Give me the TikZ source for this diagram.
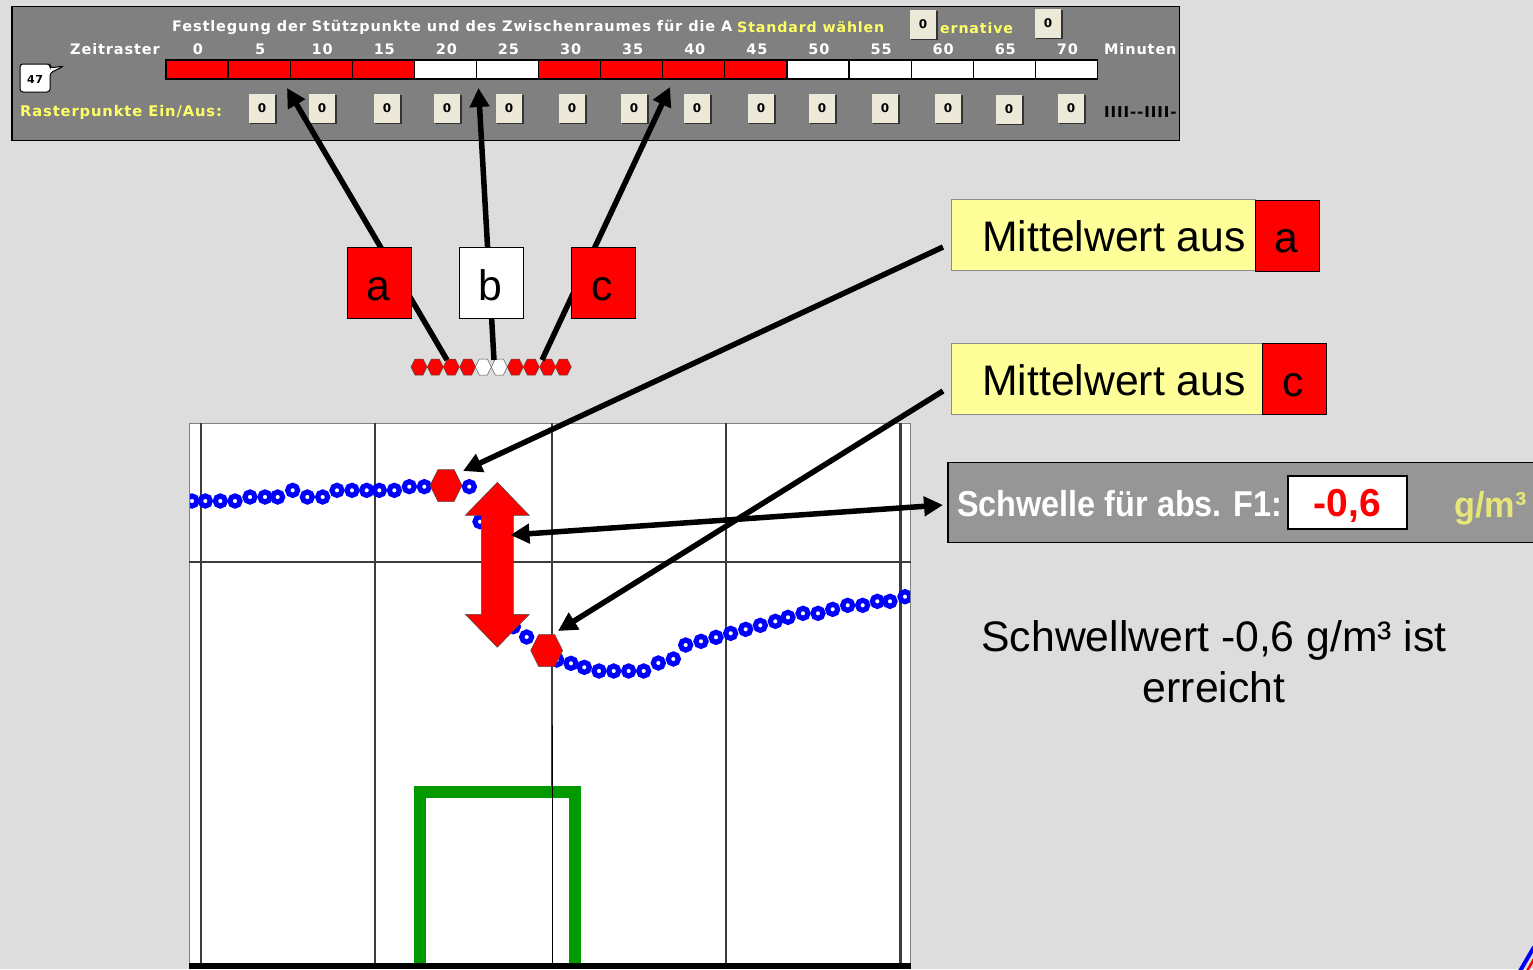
\documentclass[tikz,border=0pt]{standalone}
\usepackage{fontspec}
\usepackage{graphicx}
\usetikzlibrary{arrows.meta}
\setmainfont{Liberation Sans}
\newfontfamily\pix[LetterSpace=6]{DejaVu Sans Bold}
\definecolor{bgc}{HTML}{DDDDDD}
\definecolor{panelc}{HTML}{808080}
\definecolor{panelb}{HTML}{969696}
\definecolor{pale}{HTML}{FFFF99}
\definecolor{yel}{HTML}{FFFF66}
\definecolor{btn}{HTML}{ECE9D8}
\definecolor{gridc}{HTML}{3C3C3C}
\definecolor{grn}{HTML}{009900}
\newcommand{\fs}[1]{\fontsize{#1}{#1}\selectfont}
\newcommand{\hexag}[5]{% name x y r colour
  \coordinate (#1) at (#2,#3);
  \draw[draw=black!70,line width=.5pt,fill=#5] (#2-#4,#3) -- (#2-#4/2,#3-#4) -- (#2+#4/2,#3-#4) -- (#2+#4,#3) -- (#2+#4/2,#3+#4) -- (#2-#4/2,#3+#4) -- cycle;}
\tikzset{
  big/.style={font=\fs{42.7},inner sep=0pt},
  tag/.style={draw=black,line width=.6pt,fill=red,minimum width=64pt,minimum height=71pt,inner sep=0pt,font=\fs{42.7},text height=34pt,text depth=0pt},
  palebox/.style={draw=black!45,line width=.6pt,fill=pale,inner sep=0pt,minimum height=71pt},
  arr/.style={line width=5.5pt,draw=black,-{Triangle[length=19pt,width=19pt]}},
  arrs/.style={line width=5.5pt,draw=black,{Triangle[length=19pt,width=19pt]}-{Triangle[length=19pt,width=19pt]}},
  cell/.style={draw=black,line width=1.2pt,minimum width=62.1pt,minimum height=19pt,inner sep=0pt},
  btnn/.style={draw=none,fill=btn,minimum width=26pt,minimum height=29pt,inner sep=0pt,font=\pix\fs{12},text=black},
  lab/.style={font=\pix\fs{14.5},text=white,inner sep=0pt},
  ylab/.style={font=\pix\fs{14.2},text=yel,inner sep=0pt},
  grid/.style={draw=gridc,line width=2.4pt},
  dot/.style={draw=blue,line width=5.2pt,fill=white}
}
\begin{document}
\begin{tikzpicture}[x=1pt,y=-1pt]
\useasboundingbox (0,0) rectangle (1533,969);
\fill[bgc] (0,0) rectangle (1533,969);
\clip (0,0) rectangle (1533,969);

% top panel
\begin{scope}
\draw[draw=black,line width=1.5pt,fill=panelc] (12,6.5) rectangle (1179.5,140.5);
\clip (12,6.5) rectangle (1178.5,140.5);
\node[lab,anchor=west] (title) at (172,27) {Festlegung der Stützpunkte und des Zwischenraumes für die A};
\node[ylab,anchor=west] (std) at (737,27) {Standard wählen};
\node[ylab,anchor=west] (alt) at (940,28) {ernative};
\node[lab,anchor=west] (zr) at (70,49) {Zeitraster};
\node[lab,anchor=west] (mn) at (1104,49) {Minuten};
\node[ylab,anchor=west,font=\pix\fs{14.7}] (rp) at (20,112) {Rasterpunkte Ein/Aus:};
\node[anchor=west,inner sep=0pt,font=\pix\fs{15},text=black] (dd) at (1104,112) {IIII--IIII-};
\end{scope}
\foreach \i/\t/\c in {0/0/red,1/5/red,2/10/red,3/15/red,4/20/white,5/25/white,6/30/red,7/35/red,8/40/red,9/45/red,10/50/white,11/55/white,12/60/white,13/65/white,14/70/white}{
  \node[cell,fill=\c] (c\i) at ({197+62.1*\i},69.5) {};
  \node[lab] (t\i) at ({198+62.1*\i},49) {\t};
}
\foreach \i/\x/\y in {1/262/108,2/322/108,3/387/108,4/447/108,5/509/108,6/572/108,7/634/108,8/697/108,9/761/108,10/822/108,11/885/108,12/948/108,13/1009/109,14/1071/108,15/923/24,16/1048/23}{
  \fill[black!80] (\x-12,\y-13) rectangle (\x+14.5,\y+16);
  \node[btnn] (k\i) at (\x,\y) {0};
}
% callout 47
\draw[draw=black,line width=1pt,fill=white,rounded corners=3pt] (20,64) -- (50,64) -- (50,68) -- (64,66) -- (50,73) -- (50,92) -- (20,92) -- cycle;
\node[font=\pix\fs{11},text=black,inner sep=0pt] (n47) at (35,79) {47};

% chart
\fill[white] (189,423) rectangle (911,969);
\draw[black!50,line width=.8pt] (189.5,969) -- (189.5,423.5) -- (910.5,423.5) -- (910.5,969);
\draw[grid] (200.7,423) -- (200.7,963);
\draw[grid] (375,423) -- (375,963);
\draw[grid] (551.7,423) -- (551.7,786);
\draw[grid] (726,423) -- (726,963);
\draw[grid] (900.5,423) -- (900.5,963);
\draw[grid] (189,562) -- (911,562);
\begin{scope}
\clip (190,423) rectangle (910,963);
\foreach \X/\Y in {36/243,76/243,121/243,165/243,210/231,255/231,293/231,338/211,382/231,428/231,471/211,516/211,560/211,598/211,643/211,688/200,733/200,868/200,900/305,1000/620,1040/651}{
  \draw[dot] ({180+\X/3},{420+\Y/3}) circle (5pt);
}
\foreach \X/\Y in {170/300,213/310,253/322,297/333,341/333,386/333,431/333,475/309,520/297,557/255,603/244,648/232,692/220,737/208,781/196,826/184,864/172,909/160,954/160,998/148,1043/136,1088/136,1132/124,1170/124,1215/110}{
  \draw[dot] ({500+\X/3},{560+\Y/3}) circle (5pt);
}
\end{scope}
% green frame
\draw[grn,line width=12pt,line join=miter] (420,963) -- (420,792) -- (575,792) -- (575,963);
\draw[black,line width=1pt] (552,725) -- (552,963);
\fill[black] (189,963) rectangle (911,969);

% hexagons
\hexag{hA}{446}{485.5}{16}{red}
\hexag{hC}{546.7}{650.5}{16}{red}
\foreach \i/\x/\c in {1/419/red,2/435.3/red,3/451.3/red,4/467.7/red,5/483.3/white,6/499.3/white,7/515.3/red,8/531.3/red,9/547.7/red,10/563.3/red}{
  \hexag{s\i}{\x}{367}{8}{\c}
}
% big red double arrow
\draw[draw=black!70,line width=.5pt,fill=red] (497.3,482.3) -- (529.3,515.3) -- (513.3,515.3) -- (513.3,614.3) -- (529.3,614.3) -- (497.3,647.3) -- (465.3,614.3) -- (481.3,614.3) -- (481.3,515.3) -- (465.3,515.3) -- cycle;

% connector end points
\coordinate (sa) at (447,360);
\coordinate (sb) at (494,360);
\coordinate (sc) at (542,360);
\coordinate (ta) at (287,88);
\coordinate (tb) at (478.5,88);
\coordinate (tc) at (670,87);
\coordinate (ma) at (943,247);
\coordinate (mc) at (943,391);
\coordinate (ea) at (463,471);
\coordinate (ec) at (558,631);
\coordinate (sl) at (510.5,535);
\coordinate (sr) at (943,505);
\draw[arr] (sa) -- (ta);
\draw[arr] (sb) -- (tb);
\draw[arr] (sc) -- (tc);
\draw[arr] (ma) -- (ea);
\draw[arr] (mc) -- (ec);
\draw[arrs] (sl) -- (sr);

% tags
\node[tag] (a) at (379.5,283) {\hspace{-2pt}a};
\node[tag,fill=white] (b) at (491.5,283) {\hspace{-3pt}b};
\node[tag] (c) at (603.5,283) {\hspace{-3pt}c};

% mean value boxes
\node[palebox,anchor=west,minimum width=304pt] (m1) at (951,235) {};
\node[big,anchor=west] (m1t) at (982,236) {Mittelwert aus};
\node[tag] (m1c) at (1287.5,235.5) {\hspace{-3pt}a};
\node[palebox,anchor=west,minimum width=311pt] (m2) at (951,379) {};
\node[big,anchor=west] (m2t) at (982,380) {Mittelwert aus};
\node[tag] (m2c) at (1294.5,379) {\hspace{-3pt}c};

% threshold panel
\draw[draw=black,line width=1.2pt,fill=panelb] (948,462.5) rectangle (1540,542.5);
\node[anchor=west,inner sep=0pt,text=white,font=\bfseries\fs{36}] (sw) at (957,504) {\scalebox{.9}[1]{Schwelle für abs. F1:}};
\node[draw=black,line width=1.2pt,fill=white,minimum width=119pt,minimum height=53pt,inner sep=0pt,text=red,font=\bfseries\fs{39},text height=28pt,text depth=0pt] (sv) at (1347.5,502.5) {\scalebox{1}[1]{-0,6}};
\node[anchor=west,inner sep=0pt,text=yel!75!panelb!95!white,font=\bfseries\fs{36}] (gm) at (1454,508) {\scalebox{.95}[1]{g/m³}};

% caption
\node[big] (cap1) at (1214,640) {Schwellwert -0,6 g/m³ ist};
\node[big] (cap2) at (1214,687.5) {erreicht};

% corner fragment
\draw[blue,line width=4pt] (1520,971) -- (1534,947);
\draw[red,line width=2.5pt] (1527,971) -- (1534,959);
\end{tikzpicture}
\end{document}
